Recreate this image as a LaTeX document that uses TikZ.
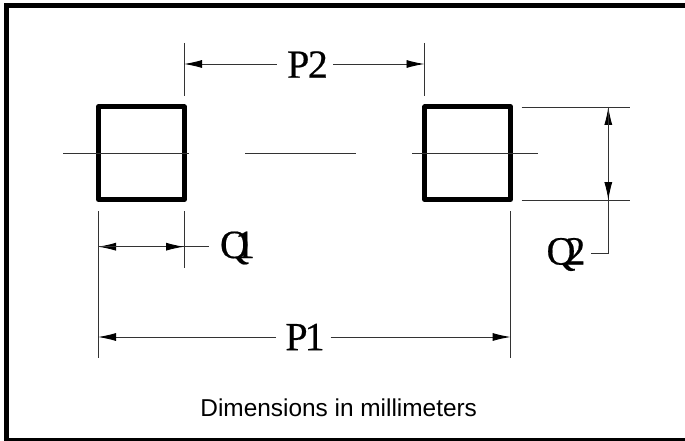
\documentclass[tikz,border=0pt]{standalone}
\usepackage{fontspec}
\usetikzlibrary{arrows.meta}
\newfontfamily\capfont{Liberation Sans}
\newfontfamily\dimfont[FakeBold=0.5]{Liberation Serif}
\tikzset{
  dimline/.style={line width=0.9pt, black!80},
  dimarrow/.style={dimline, -{Latex[length=18pt,width=8pt,black]}},
  padline/.style={line width=4.6pt, line join=round},
  dimlabel/.style={inner sep=0pt, font=\dimfont\fontsize{40}{40}\selectfont},
}

\begin{document}
\begin{tikzpicture}[x=1pt,y=-1pt]
    \useasboundingbox (0,0) rectangle (685,441);
    \clip (0,0) rectangle (685,441);
    \draw[line width=4.7pt] (685,5.65) -- (6.35,5.65) -- (6.35,440) -- (685,440);

    % pads
    \draw[padline] (98.4,106.7) rectangle (184.4,199.7);
    \draw[padline] (424.7,106.7) rectangle (510.6,199.7);

    % centre line
    \draw[dimline] (63,153.5) -- (189,153.5);
    \draw[dimline] (245,153.5) -- (356,153.5);
    \draw[dimline] (412,153.5) -- (537.5,153.5);

    % extension lines
    \foreach \x in {184,424.5}
    {\draw[dimline] (\x,43) -- (\x,96);}
    \draw[dimline] (98,211) -- (98,358);
    \draw[dimline] (184,211) -- (184,268);
    \draw[dimline] (510.6,211) -- (510.6,358);
    \foreach \y in {107,200}
    {\draw[dimline] (521.5,\y) -- (630,\y);}

    % labels
    \node[dimlabel] (ptwo) at (307.5,64.5) {P\kern-1.5pt 2};
    \node[dimlabel] (qone) at (237.5,248) {Q\kern-14pt 1};
    \node[dimlabel] (qtwo) at (566,254.5) {Q\kern-10pt 2};
    \node[dimlabel] (pone) at (305,337) {P\kern-3pt 1};
    \node[inner sep=0pt, font=\capfont\fontsize{24.4}{24.4}\selectfont] (note) at (338.7,408) {Dimensions in millimeters};

    % P2
    \coordinate (ptwol) at (184,64);
    \coordinate (ptwor) at (424.5,64);
    \coordinate (ptwoa) at (276.5,64);
    \coordinate (ptwob) at (333,64);
    \draw[dimarrow] (ptwoa) -- (ptwol);
    \draw[dimarrow] (ptwob) -- (ptwor);

    % Q1
    \coordinate (qonel) at (98,246.7);
    \coordinate (qoner) at (184,246.7);
    \coordinate (qonee) at (208.7,246.7);
    \draw[dimarrow] (qoner) -- (qonel);
    \draw[dimarrow] (qonel) -- (qoner);
    \draw[dimline] (qoner) -- (qonee);

    % Q2
    \coordinate (qtwot) at (608.3,107);
    \coordinate (qtwob) at (608.3,200);
    \coordinate (qtwoc) at (608.3,253.7);
    \coordinate (qtwoe) at (590.7,253.7);
    \draw[dimarrow] (qtwob) -- (qtwot);
    \draw[dimarrow] (qtwot) -- (qtwob);
    \draw[dimline] (qtwob) -- (qtwoc) -- (qtwoe);

    % P1
    \coordinate (ponel) at (98,337);
    \coordinate (poner) at (510.6,337);
    \coordinate (ponea) at (276,337);
    \coordinate (poneb) at (330.5,337);
    \draw[dimarrow] (ponea) -- (ponel);
    \draw[dimarrow] (poneb) -- (poner);
\end{tikzpicture}
\end{document}
